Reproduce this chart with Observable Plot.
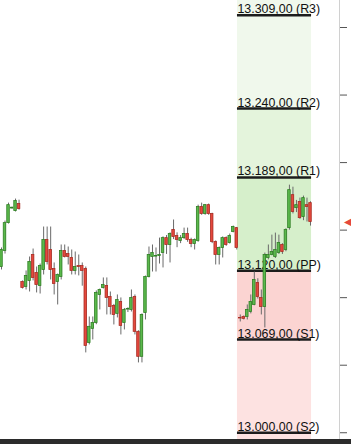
<!DOCTYPE html>
<html>
<head>
<meta charset="utf-8">
<script src="https://cdn.jsdelivr.net/npm/d3@7"></script>
<script src="https://cdn.jsdelivr.net/npm/@observablehq/plot@0.6"></script>
<style>
  html, body { margin: 0; padding: 0; background: #fff; }
  #chart svg { display: block; }
  #bar { height: 5px; background: #2b2b2b; }
</style>
</head>
<body>
<div id="chart"></div>
<div id="bar"></div>
<script>
// Intraday candles (oldest first)
const open  = [13122.7,13134.5,13155.2,13166.0,13164.1,13169.3,13111.6,13107.9,13112.4,13131.6,
               13118.3,13108.7,13120.5,13142.7,13135.3,13121.2,13111.6,13115.3,13134.5,13132.3,
               13129.4,13119.8,13123.4,13123.4,13121.2,13066.5,13076.9,13081.3,13102.0,13107.2,
               13108.7,13100.5,13093.9,13088.0,13096.8,13081.3,13091.2,13090.9,13100.5,13074.7,
               13056.2,13088.7,13115.3,13130.1,13130.4,13130.8,13133.1,13144.1,13139.0,13150.1,
               13145.6,13141.9,13144.1,13147.1,13142.7,13139.7,13141.9,13167.1,13161.9,13168.5,
               13161.9,13141.2,13131.6,13136.8,13144.1,13140.4,13148.6,13151.5,13085.0,13085.7,
               13085.7,13089.4,13094.6,13110.9,13099.8,13093.1,13129.4,13131.6,13130.1,13133.1,
               13139.0,13135.3,13151.5,13175.9,13166.3,13170.8,13159.7,13168.5,13170.0];
const high  = [13136.8,13156.7,13170.0,13167.0,13173.0,13172.2,13112.4,13119.8,13130.1,13136.0,
               13122.7,13124.9,13152.3,13152.3,13152.3,13125.7,13117.5,13139.0,13139.0,13137.5,
               13135.3,13133.8,13131.6,13125.7,13122.7,13085.7,13085.7,13105.0,13106.4,13114.6,
               13114.6,13104.2,13095.0,13102.0,13099.8,13092.0,13092.5,13105.7,13102.0,13075.5,
               13088.0,13116.0,13137.5,13139.0,13136.8,13144.1,13145.0,13146.0,13148.0,13157.5,
               13148.0,13146.0,13151.5,13151.5,13144.0,13143.5,13168.5,13170.0,13169.0,13169.3,
               13162.5,13142.0,13137.5,13145.0,13145.0,13147.1,13153.0,13152.0,13087.2,13086.5,
               13094.6,13102.0,13119.0,13114.0,13105.7,13133.0,13139.0,13146.3,13147.8,13146.3,
               13140.0,13151.0,13183.3,13181.8,13172.0,13173.7,13175.2,13173.7,13171.0];
const low   = [13120.5,13132.3,13154.5,13165.6,13163.4,13164.8,13106.4,13105.7,13104.2,13112.4,
               13103.5,13102.7,13116.8,13124.2,13113.1,13102.0,13094.6,13113.1,13129.4,13124.2,
               13116.8,13116.8,13116.1,13108.5,13059.1,13065.0,13068.7,13080.0,13090.9,13106.4,
               13087.2,13087.2,13079.8,13085.0,13072.4,13076.1,13089.0,13089.4,13072.4,13051.7,
               13051.7,13083.5,13114.6,13119.0,13119.0,13124.9,13122.0,13132.0,13125.7,13143.0,
               13137.0,13140.0,13143.0,13141.0,13137.0,13135.3,13141.0,13161.0,13161.0,13161.0,
               13140.0,13124.2,13124.2,13129.4,13138.0,13139.7,13148.0,13135.3,13082.0,13083.5,
               13083.5,13088.0,13094.0,13099.0,13087.2,13077.6,13128.0,13131.0,13129.0,13132.0,
               13132.0,13134.0,13150.0,13162.0,13163.0,13158.0,13157.0,13156.0,13153.0];
const close = [13135.3,13155.2,13168.5,13166.6,13171.5,13165.6,13107.2,13116.1,13126.4,13114.6,
               13109.4,13123.4,13142.7,13126.4,13120.5,13110.1,13116.8,13134.5,13130.1,13130.1,
               13119.8,13122.7,13122.7,13119.8,13064.3,13078.4,13081.3,13103.5,13105.7,13109.4,
               13099.8,13093.1,13087.2,13098.3,13079.1,13090.9,13091.6,13099.8,13074.7,13056.2,
               13087.2,13115.3,13131.6,13133.1,13130.8,13131.6,13144.1,13139.0,13147.1,13144.9,
               13142.7,13144.1,13147.1,13142.7,13139.7,13142.7,13167.1,13161.9,13168.5,13161.9,
               13141.2,13131.6,13136.8,13144.1,13139.0,13145.6,13152.3,13136.8,13084.6,13084.3,
               13090.9,13096.8,13113.1,13100.5,13093.1,13131.6,13131.6,13133.8,13135.3,13140.4,
               13133.8,13150.1,13179.6,13163.4,13168.5,13158.9,13173.7,13167.1,13156.0];

// Daily pivot levels for the current session
const pivotNames  = ["R3", "R2", "R1", "PP", "S1", "S2"];
const pivotValues = [13309, 13240, 13189, 13120, 13069, 13000];
// Band fills: above R2, R2–R1, R1–PP, PP–S1, below S1
const bandColors  = ["#f0f8ec", "#e4f4dc", "#d6efcb", "#fbd4d2", "#fde2e1"];
// Session span (bar index) over which the pivot levels are drawn
const sessionStart = 67.2;
const sessionEnd   = 88.3;
// Price axis ticks
const yTicks = [13000, 13050, 13100, 13150, 13200, 13250, 13300];

const yDomain = [12995, 13320];

const candles = open.map((o, i) => ({i, o, h: high[i], l: low[i], c: close[i], up: close[i] >= o}));

const fmt = v => {
  const [intPart, dec] = v.toFixed(2).split(".");
  return intPart.replace(/\B(?=(\d{3})+(?!\d))/g, ".") + "," + dec;
};

const levels = pivotNames.map((name, k) => ({name, value: pivotValues[k], label: `${fmt(pivotValues[k])} (${name})`}));

// Bands between consecutive pivot levels (R2 and lower), extended to the plot edges
const bandEdges = [yDomain[1], pivotValues[1], pivotValues[2], pivotValues[3], pivotValues[4], yDomain[0]];
const bands = bandColors.map((color, k) => ({hi: bandEdges[k], lo: bandEdges[k + 1], color}));

const green = "#5bb94c", greenEdge = "#2f7f24";
const red = "#e5483d", redEdge = "#a82d24";

const chart = Plot.plot({
  width: 351,
  height: 439,
  marginTop: 0,
  marginBottom: 0,
  marginLeft: 0,
  marginRight: 12,
  style: {fontFamily: "'Liberation Sans', Arial, sans-serif", fontSize: "12px", background: "#fff"},
  x: {domain: [0, 88], range: [1, 310], axis: null},
  y: {domain: yDomain, axis: null},
  color: {type: "identity"},
  marks: [
    Plot.rect(bands, {x1: () => sessionStart, x2: () => sessionEnd, y1: "lo", y2: "hi", fill: "color"}),
    Plot.ruleY(levels, {y: "value", x1: () => sessionStart, x2: () => sessionEnd, stroke: "#1c1c1c", strokeWidth: 2.5}),
    Plot.text(levels, {y: "value", x: () => sessionStart, text: "label", textAnchor: "start", lineAnchor: "bottom", dy: -2, fill: "#111", fontSize: 12.4}),
    Plot.ruleX(candles, {x: "i", y1: "l", y2: "h", stroke: "#6a6a6a", strokeWidth: 1}),
    Plot.rect(candles, {
      x1: d => d.i - 0.36, x2: d => d.i + 0.36, y1: "o", y2: "c",
      fill: d => d.up ? green : red,
      stroke: d => d.up ? greenEdge : redEdge,
      strokeWidth: 0.8
    }),
    Plot.frame({anchor: "right", stroke: "#d0d0d0"}),
    Plot.axisY(yTicks, {anchor: "right", tickSize: 7, tickFormat: () => "", stroke: "#555", label: null}),
    Plot.text([close[close.length - 1]], {y: d => d, text: () => "◀", frameAnchor: "right", dx: 8, textAnchor: "middle", fill: "#e5483d", fontSize: 10})
  ]
});

document.getElementById("chart").append(chart);
</script>
</body>
</html>
